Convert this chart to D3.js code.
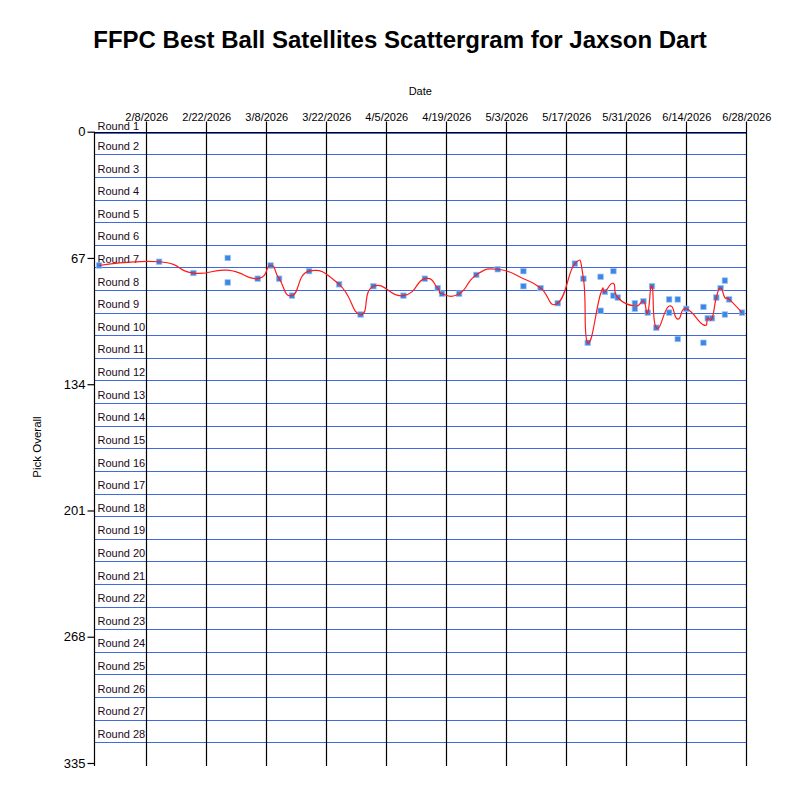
<!DOCTYPE html>
<html>
<head>
<meta charset="utf-8">
<script src="https://cdn.jsdelivr.net/npm/d3@7"></script>
<style>
  html, body { margin: 0; padding: 0; background: #fff; }
  svg { display: block; font-family: Arial, "Liberation Sans", sans-serif; }
</style>
</head>
<body>
<svg id="chart" width="800" height="800"></svg>
<script>
// ---------- data ----------
const titleText = "FFPC Best Ball Satellites Scattergram for Jaxson Dart";
const xAxisTitle = "Date";
const yAxisTitle = "Pick Overall";

const pickDates = [
  "1/28/2026", "2/11/2026", "2/19/2026", "2/27/2026", "2/27/2026", "3/6/2026",
  "3/9/2026", "3/11/2026", "3/14/2026", "3/18/2026", "3/25/2026", "3/30/2026",
  "4/2/2026", "4/9/2026", "4/14/2026", "4/17/2026", "4/18/2026", "4/22/2026",
  "4/26/2026", "5/1/2026", "5/7/2026", "5/7/2026", "5/11/2026", "5/15/2026",
  "5/19/2026", "5/21/2026", "5/22/2026", "5/25/2026", "5/25/2026", "5/26/2026",
  "5/28/2026", "5/28/2026", "5/29/2026", "6/2/2026", "6/2/2026", "6/4/2026",
  "6/5/2026", "6/6/2026", "6/7/2026", "6/10/2026", "6/10/2026", "6/12/2026",
  "6/12/2026", "6/14/2026", "6/18/2026", "6/18/2026", "6/19/2026", "6/20/2026",
  "6/21/2026", "6/22/2026", "6/23/2026", "6/23/2026", "6/24/2026", "6/27/2026"
];
const pickOverall = [
  71, 69, 75, 67, 80, 78,
  71, 78, 87, 74, 81, 97,
  82, 87, 78, 83, 86, 86,
  76, 73, 74, 82, 83, 91,
  70, 78, 112, 77, 95, 85,
  74, 87, 88, 91, 94, 90,
  96, 82, 104, 89, 96, 89,
  110, 94, 93, 112, 99, 99,
  88, 83, 79, 97, 89, 96
];

const xTickLabels = ["2/8/2026", "2/22/2026", "3/8/2026", "3/22/2026", "4/5/2026", "4/19/2026",
                     "5/3/2026", "5/17/2026", "5/31/2026", "6/14/2026", "6/28/2026"];
const yTicks = [0, 67, 134, 201, 268, 335];
const picksPerRound = 12;
const roundLabels = d3.range(1, 29).map(r => "Round " + r);
const xDomainStart = "1/26/2026 21:00";
const xDomainEnd = "6/28/2026 00:00";

(function () {
// ---------- layout ----------
const svg = d3.select("#chart");
const pL = 94.3, pR = 746.3, pT = 131.7, pB = 763;

const parse = d3.utcParse("%m/%d/%Y");
const parseTime = d3.utcParse("%m/%d/%Y %H:%M");
const fmt = d3.utcFormat("%-m/%-d/%Y");

const x = d3.scaleUtc()
  .domain([parseTime(xDomainStart), parseTime(xDomainEnd)])
  .range([pL, pR]);
const y = d3.scaleLinear().domain([0, 335]).range([pT, pB]);

// title
svg.append("text")
  .attr("x", 400).attr("y", 48)
  .attr("text-anchor", "middle")
  .attr("font-size", 24).attr("font-weight", "bold")
  .attr("fill", "#000")
  .text(titleText);

// x axis title
svg.append("text")
  .attr("x", (pL + pR) / 2).attr("y", 95)
  .attr("text-anchor", "middle")
  .attr("font-size", 11).attr("fill", "#000")
  .text(xAxisTitle);

// y axis title
svg.append("text")
  .attr("transform", `translate(41,447) rotate(-90)`)
  .attr("text-anchor", "middle")
  .attr("font-size", 11.5).attr("fill", "#000")
  .text(yAxisTitle);

// round gridlines (blue)
const roundLines = d3.range(0, 28).map(i => i * picksPerRound);
svg.append("g").selectAll("line").data(roundLines).join("line")
  .attr("x1", pL).attr("x2", pR)
  .attr("y1", d => Math.round(y(d)) + 0.5 + (d === 0 ? 1 : 0))
  .attr("y2", d => Math.round(y(d)) + 0.5 + (d === 0 ? 1 : 0))
  .attr("stroke", "#4169e1").attr("stroke-width", 1);

// round labels
svg.append("g").selectAll("text").data(roundLabels).join("text")
  .attr("x", 97.5)
  .attr("y", (d, i) => Math.max(y(i * picksPerRound) - 4.4, 130.3))
  .attr("font-size", 11).attr("fill", "#1a0a1a")
  .text(d => d);

// x axis (top) with gridlines
const xTickDates = xTickLabels.map(parse);
const xAxis = d3.axisTop(x)
  .tickValues(xTickDates)
  .tickFormat(fmt)
  .tickSize(0);
const gx = svg.append("g").attr("transform", `translate(0,${pT})`).call(xAxis);
gx.select(".domain").remove();
gx.selectAll("text")
  .attr("font-size", 11).attr("fill", "#000")
  .attr("font-family", "Arial, 'Liberation Sans', sans-serif")
  .attr("dy", 0).attr("y", -10.5);

svg.append("g").selectAll("line").data(xTickDates).join("line")
  .attr("x1", d => Math.round(x(d)) + 0.5).attr("x2", d => Math.round(x(d)) + 0.5)
  .attr("y1", 121.5).attr("y2", 766)
  .attr("stroke", "#000").attr("stroke-width", 1.2);

// top axis line
svg.append("line")
  .attr("x1", pL).attr("x2", pR + 0.5)
  .attr("y1", Math.round(pT) + 0.5).attr("y2", Math.round(pT) + 0.5)
  .attr("stroke", "#000").attr("stroke-width", 1.2);

// y axis
const yAxis = d3.axisLeft(y).tickValues(yTicks).tickSize(7).tickPadding(2);
const gy = svg.append("g").attr("transform", `translate(${Math.round(pL) + 0.5},0)`).call(yAxis);
gy.select(".domain").attr("d", `M0,${pT}V766`).attr("stroke", "#000").attr("stroke-width", 1.2);
gy.selectAll(".tick line").attr("stroke", "#000").attr("stroke-width", 1.2);
gy.selectAll("text")
  .attr("font-size", 13).attr("fill", "#000")
  .attr("font-family", "Arial, 'Liberation Sans', sans-serif");

// points
const points = pickDates.map((d, i) => ({ date: parse(d), pick: pickOverall[i] }));

// daily averages for the trend line
const avg = d3.rollups(points, v => d3.mean(v, p => p.pick), p => +p.date)
  .map(([t, m]) => ({ date: new Date(t), pick: m }))
  .sort((a, b) => a.date - b.date);

svg.append("g").selectAll("rect").data(points).join("rect")
  .attr("x", d => x(d.date) - 2.75)
  .attr("y", d => y(d.pick) - 2.75)
  .attr("width", 5.5).attr("height", 5.5)
  .attr("fill", "#3b87e8")
  .attr("stroke", "#9fc3f2").attr("stroke-width", 0.7);

const line = d3.line()
  .x(d => x(d.date))
  .y(d => y(d.pick))
  .curve(d3.curveCardinal.tension(-0.6));

svg.append("path")
  .datum(avg)
  .attr("d", line)
  .attr("fill", "none")
  .attr("stroke", "#ff1a1a")
  .attr("stroke-width", 1.2);
})();
</script>
</body>
</html>
